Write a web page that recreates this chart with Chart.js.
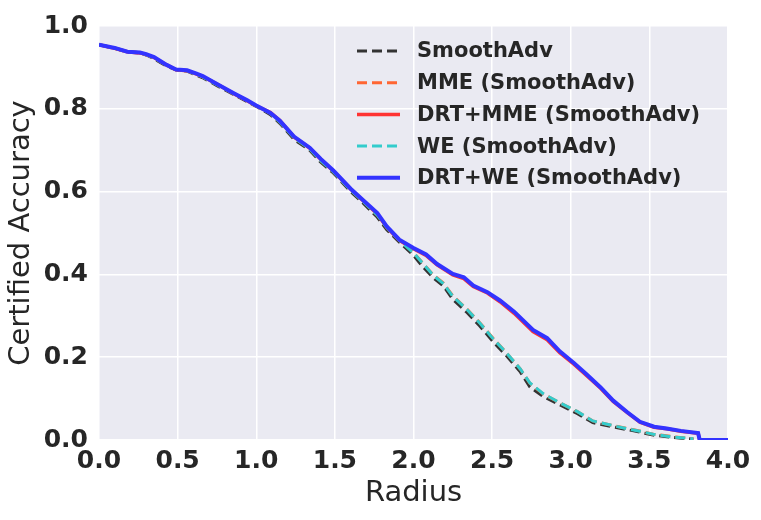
<!DOCTYPE html>
<html>
<head>
<meta charset="utf-8">
<script src="https://cdn.jsdelivr.net/npm/chart.js@4.4.0/dist/chart.umd.min.js"></script>
<style>
  html, body { margin: 0; padding: 0; background: #fff; }
  #wrap { width: 761px; height: 520px; }
</style>
</head>
<body>
<div id="wrap"><canvas id="chart" width="761" height="520"></canvas></div>
<script>
// Curvas de precisión certificada (radio -> precisión)
const xTicks = [0, 0.5, 1, 1.5, 2, 2.5, 3, 3.5, 4];
const yTicks = [0, 0.2, 0.4, 0.6, 0.8, 1.0];

const radiusDRT = [0.0, 0.1, 0.18, 0.26, 0.30, 0.35, 0.43, 0.49, 0.56, 0.62, 0.66, 0.75, 0.86, 0.94, 1.0,
  1.09, 1.15, 1.24, 1.34, 1.41, 1.49, 1.60, 1.68, 1.77, 1.83, 1.91, 2.0, 2.08, 2.15, 2.25, 2.32, 2.38,
  2.47, 2.55, 2.64, 2.76, 2.85, 2.93, 3.02, 3.10, 3.19, 3.27, 3.36, 3.44, 3.53, 3.61, 3.70, 3.81, 3.82, 4.0];
const accDrtWE = [0.955, 0.947, 0.938, 0.936, 0.932, 0.925, 0.906, 0.895, 0.893, 0.885, 0.879, 0.860, 0.837, 0.821, 0.808,
  0.790, 0.771, 0.733, 0.706, 0.679, 0.651, 0.607, 0.579, 0.548, 0.516, 0.484, 0.464, 0.448, 0.425, 0.401, 0.393, 0.373,
  0.357, 0.337, 0.310, 0.266, 0.246, 0.214, 0.186, 0.159, 0.127, 0.095, 0.067, 0.044, 0.032, 0.028, 0.022, 0.017, 0.0, 0.0];
const accDrtMME = [0.955, 0.946, 0.938, 0.935, 0.931, 0.924, 0.906, 0.894, 0.892, 0.884, 0.878, 0.860, 0.836, 0.820, 0.807,
  0.791, 0.772, 0.732, 0.705, 0.678, 0.650, 0.606, 0.578, 0.546, 0.514, 0.482, 0.462, 0.446, 0.423, 0.399, 0.390, 0.371,
  0.355, 0.334, 0.306, 0.262, 0.242, 0.211, 0.183, 0.156, 0.125, 0.093, 0.066, 0.043, 0.031, 0.027, 0.021, 0.016, 0.0, 0.0];

const radiusBase = [0.0, 0.1, 0.18, 0.26, 0.30, 0.35, 0.43, 0.49, 0.56, 0.62, 0.66, 0.75, 0.86, 0.94, 1.0,
  1.09, 1.15, 1.24, 1.34, 1.41, 1.49, 1.60, 1.68, 1.77, 1.83, 1.91, 2.0, 2.06, 2.125, 2.19, 2.25, 2.34,
  2.42, 2.51, 2.59, 2.68, 2.74, 2.825, 2.93, 3.04, 3.14, 3.29, 3.40, 3.525, 3.65, 3.78];
const accSmoothAdv = [0.955, 0.946, 0.937, 0.935, 0.930, 0.921, 0.903, 0.894, 0.891, 0.881, 0.875, 0.856, 0.834, 0.818, 0.806,
  0.786, 0.765, 0.726, 0.700, 0.671, 0.645, 0.600, 0.572, 0.538, 0.508, 0.478, 0.446, 0.418, 0.392, 0.372, 0.340, 0.308,
  0.276, 0.236, 0.204, 0.164, 0.128, 0.105, 0.085, 0.064, 0.042, 0.030, 0.022, 0.012, 0.006, 0.002];
const accMME = [0.955, 0.947, 0.938, 0.936, 0.931, 0.923, 0.905, 0.895, 0.892, 0.883, 0.877, 0.858, 0.836, 0.820, 0.807,
  0.789, 0.768, 0.730, 0.703, 0.675, 0.648, 0.604, 0.576, 0.543, 0.513, 0.483, 0.453, 0.427, 0.399, 0.379, 0.348, 0.316,
  0.284, 0.244, 0.211, 0.171, 0.137, 0.111, 0.090, 0.069, 0.046, 0.033, 0.025, 0.014, 0.008, 0.003];
const accWE = [0.955, 0.947, 0.938, 0.936, 0.931, 0.923, 0.905, 0.895, 0.892, 0.883, 0.877, 0.858, 0.836, 0.820, 0.807,
  0.789, 0.768, 0.730, 0.703, 0.675, 0.648, 0.604, 0.576, 0.543, 0.513, 0.482, 0.452, 0.426, 0.398, 0.378, 0.347, 0.315,
  0.283, 0.243, 0.211, 0.171, 0.138, 0.112, 0.090, 0.069, 0.046, 0.033, 0.024, 0.014, 0.007, 0.003];

const labels = ['SmoothAdv', 'MME (SmoothAdv)', 'DRT+MME (SmoothAdv)', 'WE (SmoothAdv)', 'DRT+WE (SmoothAdv)'];

const toPoints = (xs, ys) => xs.map((x, i) => ({ x: x, y: ys[i] }));
const ink = '#262626';

// fondo gris estilo seaborn
const fondo = {
  id: 'fondo',
  beforeDraw(chart) {
    const { ctx, chartArea: a } = chart;
    ctx.save();
    ctx.fillStyle = '#EAEAF2';
    ctx.fillRect(a.left, a.top, a.right - a.left, a.bottom - a.top);
    ctx.restore();
  }
};

// leyenda dentro del área del gráfico, sin marco
const leyenda = {
  id: 'leyenda',
  afterDatasetsDraw(chart) {
    const { ctx, chartArea: a } = chart;
    const x0 = a.left + 258, y0 = a.top + 25, step = 31.7;
    ctx.save();
    ctx.font = 'bold 21px "DejaVu Sans"';
    ctx.textBaseline = 'middle';
    chart.data.datasets.forEach((ds, i) => {
      const y = y0 + i * step;
      ctx.strokeStyle = ds.borderColor;
      ctx.lineWidth = ds.borderWidth;
      ctx.setLineDash(ds.borderDash || []);
      ctx.beginPath();
      ctx.moveTo(x0, y);
      ctx.lineTo(x0 + 43, y);
      ctx.stroke();
      ctx.setLineDash([]);
      ctx.fillStyle = ink;
      ctx.fillText(ds.label, x0 + 60, y + 1);
    });
    ctx.restore();
  }
};

// order: menor número = se dibuja encima
const chart = new Chart(document.getElementById('chart'), {
  type: 'line',
  data: {
    datasets: [
      { label: labels[0], data: toPoints(radiusBase, accSmoothAdv), borderColor: '#333333', borderWidth: 3, borderDash: [10, 5], order: 5 },
      { label: labels[1], data: toPoints(radiusBase, accMME), borderColor: '#ff6633', borderWidth: 3, borderDash: [10, 5], order: 4 },
      { label: labels[2], data: toPoints(radiusDRT, accDrtMME), borderColor: '#ff3333', borderWidth: 3.5, order: 3 },
      { label: labels[3], data: toPoints(radiusBase, accWE), borderColor: '#33cccc', borderWidth: 3, borderDash: [10, 5], order: 2 },
      { label: labels[4], data: toPoints(radiusDRT, accDrtWE), borderColor: '#3333ff', borderWidth: 4, order: 1 }
    ]
  },
  options: {
    responsive: false,
    animation: false,
    elements: { point: { radius: 0 }, line: { tension: 0, fill: false } },
    layout: { padding: { top: 20, right: 33, left: 0, bottom: 0 } },
    plugins: { legend: { display: false }, tooltip: { enabled: false } },
    scales: {
      x: {
        type: 'linear', min: 0, max: 4,
        afterBuildTicks: s => { s.ticks = xTicks.map(v => ({ value: v })); },
        afterFit: s => { s.height = 80; },
        ticks: { callback: v => v.toFixed(1), font: { family: 'DejaVu Sans', size: 25, weight: 'bold' }, color: ink, padding: 6, maxRotation: 0, autoSkip: false },
        grid: { color: '#ffffff', lineWidth: 1.5, drawTicks: false },
        border: { display: false },
        title: { display: true, text: 'Radius', font: { family: 'DejaVu Sans', size: 29 }, color: ink, padding: { top: 0, bottom: 9 } }
      },
      y: {
        min: 0, max: 1,
        afterBuildTicks: s => { s.ticks = yTicks.map(v => ({ value: v })); },
        afterFit: s => { s.width = 99; },
        ticks: { callback: v => v.toFixed(1), font: { family: 'DejaVu Sans', size: 25, weight: 'bold' }, color: ink, padding: 11 },
        grid: { color: '#ffffff', lineWidth: 1.5, drawTicks: false },
        border: { display: false },
        title: { display: true, text: 'Certified Accuracy', font: { family: 'DejaVu Sans', size: 29 }, color: ink, padding: { top: 4, bottom: 0 } }
      }
    }
  },
  plugins: [fondo, leyenda]
});
</script>
</body>
</html>
